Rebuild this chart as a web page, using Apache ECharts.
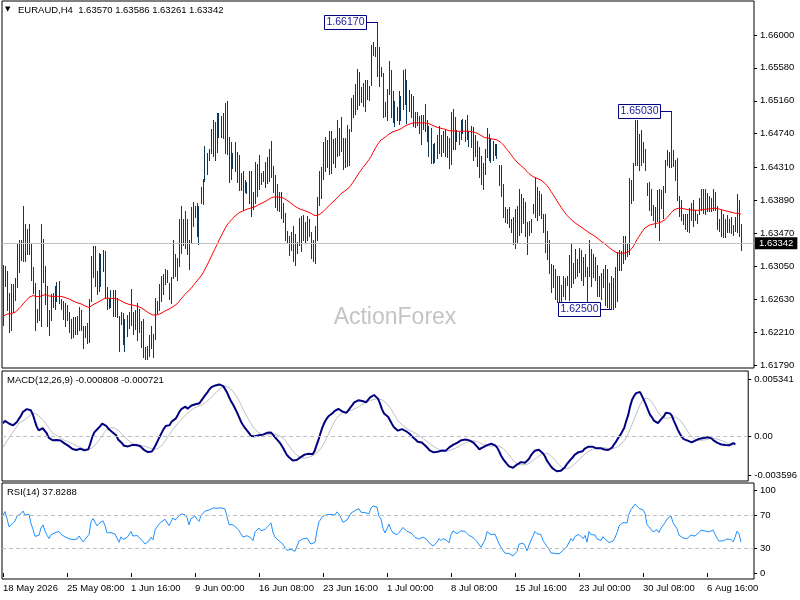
<!DOCTYPE html>
<html>
<head>
<meta charset="utf-8">
<title>EURAUD H4</title>
<script src="https://cdn.jsdelivr.net/npm/echarts@6/dist/echarts.min.js"></script>
<style>
  html, body { margin: 0; padding: 0; background: #fff; }
  #chart { width: 800px; height: 600px; }
</style>
</head>
<body>
<div id="chart"></div>
<script>
// last bar quote shown in the header: open, high, low, close
var lastOhlc = [1.63570, 1.63586, 1.63261, 1.63342];

// H4 bar highs, 18 May 2026 00:00 onwards
var high = [
  1.6306,1.6305,1.6299,1.6271,1.6282,1.6282,1.6290,1.6334,1.6338,1.6339,
  1.6382,1.6359,1.6353,1.6359,1.6335,1.6304,1.6283,1.6251,1.6275,1.6359,
  1.6340,1.6305,1.6280,1.6249,1.6270,1.6271,1.6280,1.6285,1.6286,1.6263,
  1.6261,1.6258,1.6255,1.6246,1.6237,1.6240,1.6240,1.6241,1.6253,1.6249,
  1.6229,1.6229,1.6233,1.6263,1.6318,1.6331,1.6331,1.6299,1.6322,1.6321,
  1.6326,1.6325,1.6278,1.6264,1.6275,1.6275,1.6275,1.6264,1.6241,1.6247,
  1.6245,1.6237,1.6243,1.6247,1.6276,1.6247,1.6249,1.6258,1.6250,1.6235,
  1.6237,1.6202,1.6203,1.6217,1.6229,1.6219,1.6264,1.6260,1.6282,1.6292,
  1.6295,1.6302,1.6300,1.6283,1.6291,1.6338,1.6321,1.6316,1.6365,1.6382,
  1.6365,1.6375,1.6365,1.6338,1.6380,1.6387,1.6382,1.6386,1.6382,1.6406,
  1.6416,1.6458,1.6450,1.6454,1.6480,1.6491,1.6489,1.6500,1.6500,1.6497,
  1.6500,1.6513,1.6516,1.6470,1.6463,1.6450,1.6464,1.6451,1.6447,1.6424,
  1.6426,1.6415,1.6413,1.6426,1.6426,1.6399,1.6438,1.6435,1.6447,1.6424,
  1.6427,1.6438,1.6444,1.6454,1.6465,1.6433,1.6421,1.6410,1.6399,1.6400,
  1.6386,1.6373,1.6350,1.6343,1.6349,1.6356,1.6346,1.6336,1.6367,1.6369,
  1.6370,1.6361,1.6369,1.6365,1.6348,1.6339,1.6356,1.6393,1.6427,1.6432,
  1.6463,1.6470,1.6466,1.6478,1.6478,1.6467,1.6469,1.6492,1.6481,1.6495,
  1.6469,1.6468,1.6485,1.6480,1.6519,1.6523,1.6537,1.6556,1.6553,1.6534,
  1.6539,1.6543,1.6543,1.6535,1.6587,1.6591,1.6585,1.6617,1.6585,1.6559,
  1.6552,1.6515,1.6531,1.6567,1.6555,1.6528,1.6516,1.6508,1.6529,1.6522,
  1.6555,1.6557,1.6543,1.6530,1.6525,1.6522,1.6502,1.6502,1.6496,1.6498,
  1.6498,1.6512,1.6491,1.6484,1.6481,1.6461,1.6462,1.6472,1.6484,1.6472,
  1.6477,1.6479,1.6471,1.6469,1.6502,1.6506,1.6495,1.6479,1.6476,1.6491,
  1.6493,1.6491,1.6498,1.6477,1.6484,1.6482,1.6472,1.6465,1.6457,1.6445,
  1.6436,1.6455,1.6481,1.6474,1.6468,1.6465,1.6461,1.6461,1.6434,1.6434,
  1.6410,1.6380,1.6378,1.6380,1.6365,1.6368,1.6378,1.6382,1.6404,1.6397,
  1.6392,1.6387,1.6361,1.6363,1.6365,1.6384,1.6417,1.6406,1.6401,1.6397,
  1.6372,1.6372,1.6350,1.6338,1.6308,1.6307,1.6301,1.6293,1.6293,1.6281,
  1.6292,1.6290,1.6292,1.6319,1.6333,1.6309,1.6327,1.6314,1.6328,1.6326,
  1.6317,1.6321,1.6304,1.6338,1.6327,1.6321,1.6317,1.6306,1.6293,1.6296,
  1.6302,1.6306,1.6301,1.6283,1.6292,1.6290,1.6304,1.6323,1.6326,1.6325,
  1.6343,1.6343,1.6334,1.6418,1.6415,1.6437,1.6491,1.6492,1.6474,1.6479,
  1.6464,1.6455,1.6411,1.6412,1.6403,1.6383,1.6380,1.6402,1.6404,1.6402,
  1.6407,1.6440,1.6453,1.6451,1.6503,1.6453,1.6441,1.6443,1.6394,1.6389,
  1.6372,1.6372,1.6372,1.6379,1.6386,1.6390,1.6377,1.6372,1.6392,1.6404,
  1.6404,1.6403,1.6398,1.6394,1.6392,1.6403,1.6400,1.6382,1.6365,1.6377,
  1.6372,1.6365,1.6370,1.6365,1.6368,1.6357,1.6368,1.6397,1.6389,1.63586
];

// H4 bar lows, same bars
var low = [
  1.6230,1.6280,1.6249,1.6221,1.6223,1.6247,1.6262,1.6278,1.6297,1.6313,
  1.6312,1.6311,1.6321,1.6321,1.6287,1.6271,1.6223,1.6234,1.6236,1.6229,
  1.6285,1.6257,1.6229,1.6217,1.6236,1.6253,1.6250,1.6261,1.6258,1.6251,
  1.6237,1.6229,1.6236,1.6221,1.6213,1.6215,1.6218,1.6218,1.6224,1.6223,
  1.6200,1.6215,1.6207,1.6208,1.6260,1.6291,1.6280,1.6269,1.6273,1.6280,
  1.6299,1.6265,1.6251,1.6252,1.6253,1.6241,1.6241,1.6240,1.6197,1.6231,
  1.6206,1.6197,1.6216,1.6226,1.6230,1.6219,1.6225,1.6211,1.6221,1.6202,
  1.6189,1.6187,1.6186,1.6190,1.6200,1.6189,1.6212,1.6245,1.6249,1.6261,
  1.6270,1.6282,1.6285,1.6263,1.6258,1.6290,1.6292,1.6287,1.6305,1.6322,
  1.6332,1.6328,1.6321,1.6301,1.6334,1.6356,1.6368,1.6343,1.6333,1.6386,
  1.6384,1.6414,1.6423,1.6441,1.6450,1.6446,1.6441,1.6451,1.6470,1.6470,
  1.6468,1.6450,1.6448,1.6413,1.6416,1.6430,1.6427,1.6413,1.6402,1.6402,
  1.6377,1.6400,1.6398,1.6386,1.6369,1.6378,1.6386,1.6395,1.6404,1.6410,
  1.6414,1.6406,1.6411,1.6414,1.6419,1.6400,1.6381,1.6377,1.6375,1.6366,
  1.6361,1.6338,1.6336,1.6319,1.6326,1.6312,1.6307,1.6322,1.6332,1.6325,
  1.6338,1.6334,1.6338,1.6344,1.6315,1.6312,1.6309,1.6338,1.6383,1.6392,
  1.6416,1.6427,1.6432,1.6423,1.6424,1.6437,1.6431,1.6445,1.6447,1.6452,
  1.6429,1.6431,1.6433,1.6434,1.6478,1.6495,1.6499,1.6505,1.6511,1.6514,
  1.6509,1.6503,1.6518,1.6517,1.6536,1.6574,1.6573,1.6547,1.6535,1.6547,
  1.6495,1.6496,1.6492,1.6525,1.6495,1.6489,1.6484,1.6491,1.6487,1.6491,
  1.6505,1.6512,1.6488,1.6503,1.6495,1.6484,1.6483,1.6485,1.6475,1.6461,
  1.6480,1.6477,1.6465,1.6445,1.6437,1.6436,1.6438,1.6443,1.6450,1.6446,
  1.6451,1.6445,1.6444,1.6430,1.6435,1.6454,1.6455,1.6465,1.6461,1.6467,
  1.6475,1.6465,1.6467,1.6458,1.6457,1.6440,1.6446,1.6433,1.6419,1.6410,
  1.6404,1.6423,1.6444,1.6441,1.6438,1.6440,1.6447,1.6443,1.6409,1.6395,
  1.6368,1.6361,1.6360,1.6355,1.6348,1.6333,1.6328,1.6336,1.6345,1.6349,
  1.6360,1.6343,1.6321,1.6345,1.6348,1.6373,1.6368,1.6364,1.6370,1.6367,
  1.6348,1.6323,1.6314,1.6296,1.6272,1.6278,1.6263,1.6259,1.6260,1.6260,
  1.6267,1.6263,1.6281,1.6262,1.6278,1.6284,1.6290,1.6293,1.6298,1.6287,
  1.6281,1.6293,1.6260,1.6293,1.6280,1.6291,1.6288,1.6267,1.6267,1.6263,
  1.6278,1.6255,1.6253,1.6252,1.6250,1.6251,1.6253,1.6260,1.6300,1.6300,
  1.6309,1.6314,1.6318,1.6320,1.6386,1.6389,1.6434,1.6434,1.6428,1.6434,
  1.6438,1.6428,1.6396,1.6377,1.6370,1.6364,1.6355,1.6363,1.6338,1.6379,
  1.6367,1.6399,1.6434,1.6432,1.6432,1.6433,1.6415,1.6389,1.6369,1.6364,
  1.6359,1.6353,1.6350,1.6349,1.6364,1.6356,1.6364,1.6360,1.6372,1.6377,
  1.6373,1.6372,1.6375,1.6376,1.6375,1.6377,1.6377,1.6353,1.6350,1.6343,
  1.6342,1.6342,1.6349,1.6348,1.6347,1.6345,1.6350,1.6348,1.6343,1.63261
];

// swing high / low call-outs: bar index and price
var annIndex = [187, 334, 304];
var annPrice = [1.66170, 1.65030, 1.62500];

// axis tick labels
var priceTicks = [1.66000, 1.65580, 1.65160, 1.64740, 1.64310, 1.63890, 1.63470, 1.63050, 1.62630, 1.62210, 1.61790];
var macdTicks = [0.005341, 0, -0.003596];
var rsiTicks = [100, 70, 30, 0];
var rsiLevels = [70, 30];
var timeLabels = ['18 May 2026', '25 May 08:00', '1 Jun 16:00', '9 Jun 00:00', '16 Jun 08:00', '23 Jun 16:00',
  '1 Jul 00:00', '8 Jul 08:00', '15 Jul 16:00', '23 Jul 00:00', '30 Jul 08:00', '6 Aug 16:00'];
var labelStep = 32;   // bars between time labels

// indicator readouts in the sub-window headers
var macdReadout = [-0.000808, -0.000721];
var rsiReadout = 37.8288;

// indicator values at the left edge (history before the first bar is not on the chart)
var maStart = 1.6240;
var macdStart = 0.0012;
var signalStart = -0.0013;
var rsiStart = 70;

var FONT = '"Liberation Sans", Arial, sans-serif';
var barColor = '#0b3a5c';
var n = high.length;
var cats = [];
for (var i = 0; i < n + 6; i++) cats.push(i);

// indicators on median price
var median = high.map(function (h, i) { return (h + low[i]) / 2; });

function ema(src, period, seed) {
  var a = 2 / (period + 1), prev = seed;
  return src.map(function (v) { prev = prev + a * (v - prev); return prev; });
}
var ma55 = ema(median, 55, maStart);
var ema12 = ema(median, 12, maStart + macdStart);
var ema26 = ema(median, 26, maStart);
var macd = ema12.map(function (v, i) { return v - ema26[i]; });
var signal = macd.map(function (v, i) {
  var s = 0;
  for (var k = i - 8; k <= i; k++) s += k < 0 ? signalStart : macd[k];
  return s / 9;
});
var diffs = median.map(function (v, i) { return i ? v - median[i - 1] : 0; });
var avgAbs = diffs.reduce(function (s, d) { return s + Math.abs(d); }, 0) / (n - 1);
var ag = avgAbs * rsiStart / 100, al = avgAbs * (100 - rsiStart) / 100;
var rsi = diffs.map(function (d) {
  ag = (ag * 13 + Math.max(d, 0)) / 14;
  al = (al * 13 + Math.max(-d, 0)) / 14;
  return 100 - 100 / (1 + ag / al);
});

function showTime(idx) { return idx % labelStep === 0 && idx / labelStep < timeLabels.length; }

function subAxis(grid) {
  return {
    type: 'category', gridIndex: grid, data: cats, boundaryGap: true,
    axisLine: { show: false }, axisTick: { show: false }, axisLabel: { show: false }, splitLine: { show: false }
  };
}
function valueAxis(grid, min, max, ticks, fmt) {
  return {
    type: 'value', gridIndex: grid, position: 'right', min: min, max: max,
    axisLine: { show: false }, splitLine: { show: false },
    axisTick: { show: true, length: 3, customValues: ticks, lineStyle: { color: '#000' } },
    axisLabel: { customValues: ticks, formatter: fmt, color: '#000', fontSize: 9.5, fontFamily: FONT, margin: 6 }
  };
}
var dashed = { color: '#c0c0c0', type: [4, 3], width: 1 };

var chart = echarts.init(document.getElementById('chart'));
chart.setOption({
  animation: false,
  backgroundColor: '#fff',
  grid: [
    { left: 2, top: 1, width: 752, height: 367, show: true, borderColor: '#000', borderWidth: 1 },
    { left: 2, top: 371, width: 752, height: 110, show: true, borderColor: '#000', borderWidth: 1 },
    { left: 2, top: 483, width: 752, height: 96, show: true, borderColor: '#000', borderWidth: 1 }
  ],
  xAxis: [
    subAxis(0),
    subAxis(1),
    {
      type: 'category', gridIndex: 2, data: cats, boundaryGap: true,
      axisLine: { show: false }, splitLine: { show: false },
      axisTick: { show: true, alignWithLabel: true, interval: showTime, length: 4, lineStyle: { color: '#000' } },
      axisLabel: {
        interval: showTime, align: 'left', margin: 4, color: '#000', fontSize: 9.5, fontFamily: FONT,
        formatter: function (v, idx) { return timeLabels[idx / labelStep]; }
      }
    }
  ],
  yAxis: [
    valueAxis(0, 1.61751, 1.66433, priceTicks, function (v) { return v.toFixed(5); }),
    valueAxis(1, -0.00414, 0.0061, macdTicks, function (v) { return v === 0 ? '0.00' : v.toFixed(6); }),
    valueAxis(2, -7.3, 109.4, rsiTicks, function (v) { return String(v); })
  ],
  graphic: [
    { type: 'text', x: 395, y: 318, z: 0, silent: true,
      style: { text: 'ActionForex', font: '23px ' + FONT, fill: '#c4c4c4', align: 'center', verticalAlign: 'middle' } },
    { type: 'text', x: 5, y: 6, z: 10,
      style: { text: '\u25BC', font: '7px "DejaVu Sans"', fill: '#000' } },
    { type: 'text', x: 18, y: 5, z: 10,
      style: { text: 'EURAUD,H4  ' + lastOhlc.map(function (v) { return v.toFixed(5); }).join(' '), font: '9.5px ' + FONT, fill: '#000' } },
    { type: 'text', x: 7, y: 375, z: 10,
      style: { text: 'MACD(12,26,9) ' + macdReadout.map(function (v) { return v.toFixed(6); }).join(' '), font: '9.5px ' + FONT, fill: '#000' } },
    { type: 'text', x: 7, y: 487, z: 10,
      style: { text: 'RSI(14) ' + rsiReadout.toFixed(4), font: '9.5px ' + FONT, fill: '#000' } }
  ],
  series: [
    {
      name: 'EURAUD', type: 'custom', xAxisIndex: 0, yAxisIndex: 0, z: 2,
      data: high.map(function (h, i) { return [i, h, low[i]]; }),
      encode: { x: 0, y: [1, 2] },
      renderItem: function (params, api) {
        var top = api.coord([api.value(0), api.value(1)]);
        var bot = api.coord([api.value(0), api.value(2)]);
        var x = Math.floor(top[0]) + 0.5;
        return {
          type: 'line',
          shape: { x1: x, y1: Math.round(top[1]), x2: x, y2: Math.round(bot[1]) + 1 },
          style: { stroke: barColor, lineWidth: 1 }
        };
      }
    },
    {
      name: 'EMA55', type: 'line', xAxisIndex: 0, yAxisIndex: 0, z: 3,
      data: ma55, symbol: 'none', lineStyle: { color: '#ff0000', width: 1 },
      markLine: {
        silent: true, symbol: 'none', precision: 5,
        lineStyle: { color: '#c0c0c0', type: 'solid', width: 1 },
        label: {
          show: true, position: 'end', distance: 1, formatter: lastOhlc[3].toFixed(5),
          color: '#fff', backgroundColor: '#000', padding: [1, 4, 1, 4], fontSize: 9.5, fontFamily: FONT
        },
        data: [{ yAxis: lastOhlc[3] }]
      }
    },
    {
      name: 'callouts', type: 'custom', xAxisIndex: 0, yAxisIndex: 0, z: 5,
      data: annIndex.map(function (idx, k) { return [idx, annPrice[k]]; }),
      encode: { x: 0, y: 1 },
      renderItem: function (params, api) {
        var p = api.coord([api.value(0), api.value(1)]);
        var px = Math.floor(p[0]) + 0.5, py = Math.round(p[1]) + 0.5;
        var right = px - 11, w = 42, h = 14;
        return {
          type: 'group',
          children: [
            { type: 'line', shape: { x1: right, y1: py, x2: px, y2: py }, style: { stroke: '#000080', lineWidth: 1 } },
            { type: 'rect', shape: { x: right - w, y: py - h / 2, width: w, height: h },
              style: { fill: '#fff', stroke: '#000080', lineWidth: 1 } },
            { type: 'text', x: right - w / 2, y: py,
              style: { text: api.value(1).toFixed(5), fill: '#1a1a9a', font: '10.5px ' + FONT, align: 'center', verticalAlign: 'middle' } }
          ]
        };
      }
    },
    {
      name: 'MACD', type: 'line', xAxisIndex: 1, yAxisIndex: 1, z: 4,
      data: macd, symbol: 'none', lineStyle: { color: '#000080', width: 2 },
      markLine: { silent: true, symbol: 'none', precision: 6, label: { show: false }, lineStyle: dashed, data: [{ yAxis: 0 }] }
    },
    {
      name: 'Signal', type: 'line', xAxisIndex: 1, yAxisIndex: 1, z: 3,
      data: signal, symbol: 'none', lineStyle: { color: '#c0c0c0', width: 1 }
    },
    {
      name: 'RSI', type: 'line', xAxisIndex: 2, yAxisIndex: 2, z: 3,
      data: rsi, symbol: 'none', lineStyle: { color: '#1e90ff', width: 1 },
      markLine: {
        silent: true, symbol: 'none', label: { show: false }, lineStyle: dashed,
        data: rsiLevels.map(function (v) { return { yAxis: v }; })
      }
    }
  ]
});
</script>
</body>
</html>
